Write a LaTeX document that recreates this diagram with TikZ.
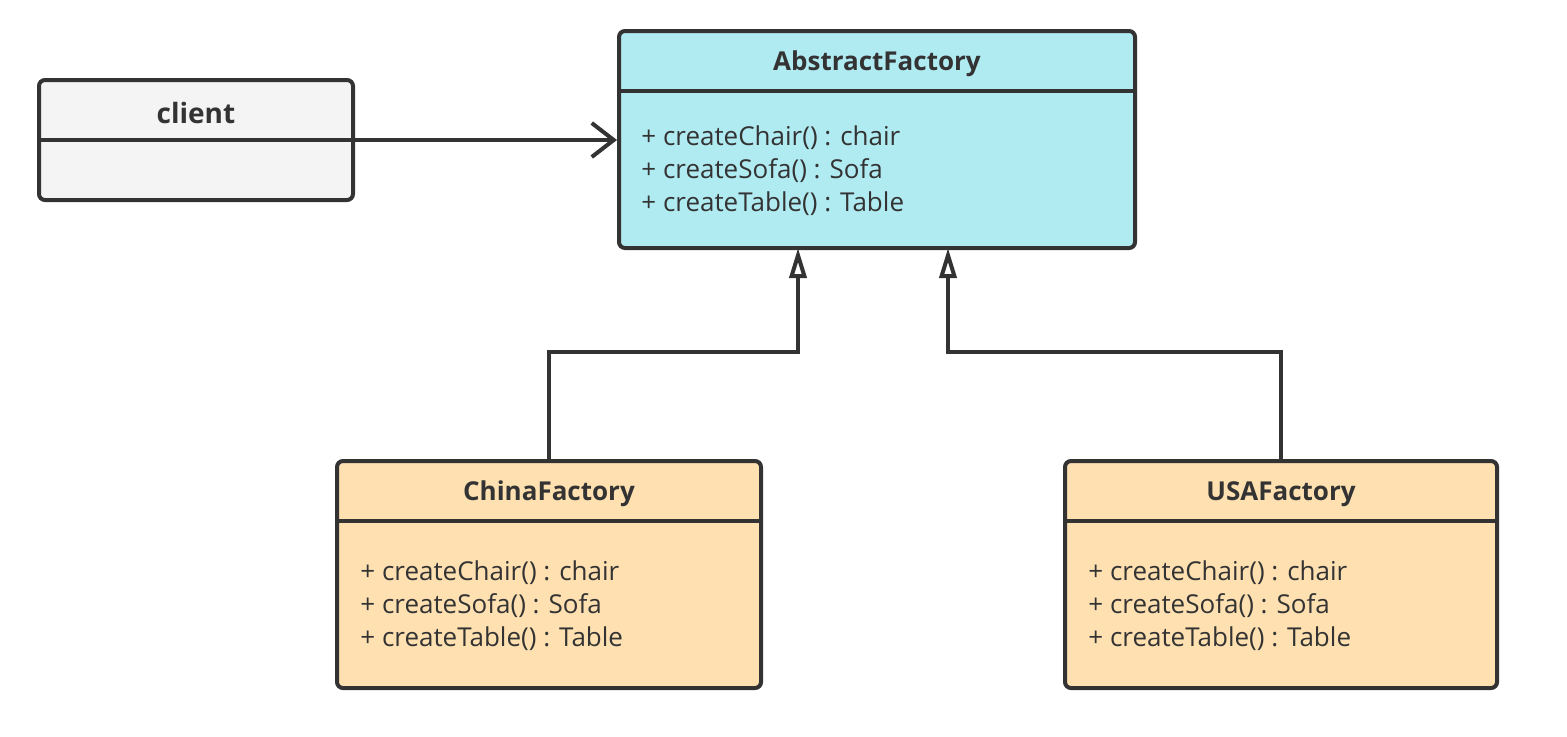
\documentclass[tikz,border=0pt]{standalone}
\usepackage{fontspec}
\setmainfont{Open Sans}
\usetikzlibrary{arrows.meta}
\definecolor{strokec}{HTML}{333333}
\definecolor{afcol}{HTML}{B1EBF2}
\definecolor{orcol}{HTML}{FEE0B1}
\definecolor{clcol}{HTML}{F4F4F4}
\begin{document}
\begin{tikzpicture}[x=0.5pt,y=-0.5pt,
  cls/.style={draw=strokec, line width=2pt, rounded corners=3pt, inner sep=0pt},
  divider/.style={draw=strokec, line width=2pt},
  title/.style={inner sep=0pt, text=strokec, font=\fontsize{13}{15}\selectfont\bfseries},
  body/.style={inner sep=0pt, text=strokec, align=left, anchor=west, font=\fontsize{13}{16.5}\selectfont},
  assoc/.style={draw=strokec, line width=2pt, -{Straight Barb[length=11pt, width=17pt, line width=2pt]}},
  inh/.style={draw=strokec, line width=2pt, -{Triangle[open, length=15pt, width=8.5pt, line width=2pt]}}
]
\useasboundingbox (0,0) rectangle (1567,736);

% client
\node[cls, fill=clcol, minimum width=157pt, minimum height=60pt] (client) at (196,140) {};
\draw[divider] (client.west) -- (client.east);
\node[title, font=\fontsize{14}{16}\selectfont\bfseries] (clientt) at (196,113) {client};

% AbstractFactory
\node[cls, fill=afcol, minimum width=258pt, minimum height=108.5pt] (af) at (877,139.5) {};
\draw[divider] (af.west |- 0,91) -- (af.east |- 0,91);
\node[title] (aft) at (877,64) {AbstractFactory};
\node[body] (afb) at (641,171) {+ createChair() : chair\\+ createSofa() : Sofa\\+ createTable() : Table};

% ChinaFactory
\node[cls, fill=orcol, minimum width=212pt, minimum height=113.5pt] (china) at (549,574.5) {};
\draw[divider] (china.west |- 0,521) -- (china.east |- 0,521);
\node[title] (chinat) at (549,494) {ChinaFactory};
\node[body] (chinab) at (360,606) {+ createChair() : chair\\+ createSofa() : Sofa\\+ createTable() : Table};

% USAFactory
\node[cls, fill=orcol, minimum width=216pt, minimum height=113.5pt] (usa) at (1281,574.5) {};
\draw[divider] (usa.west |- 0,521) -- (usa.east |- 0,521);
\node[title] (usat) at (1281,494) {USAFactory};
\node[body] (usab) at (1088,606) {+ createChair() : chair\\+ createSofa() : Sofa\\+ createTable() : Table};

% connectors
\draw[assoc] (client.east) -- (client.east -| af.west);
\coordinate (t1) at (798,248);
\coordinate (m1) at (798,352);
\coordinate (t2) at (948,248);
\coordinate (m2) at (948,352);
\draw[inh] (china.north) |- (m1) -- (t1);
\draw[inh] (usa.north) |- (m2) -- (t2);
\end{tikzpicture}
\end{document}
